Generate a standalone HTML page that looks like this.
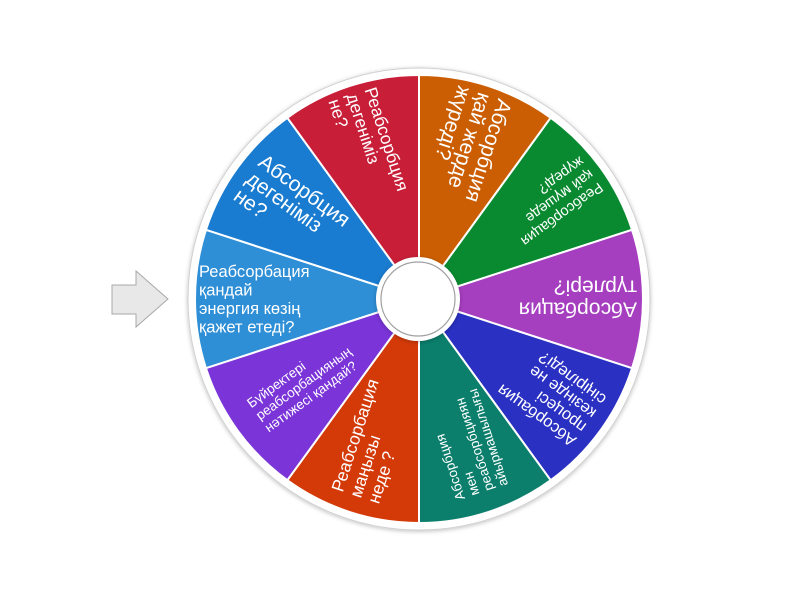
<!DOCTYPE html>
<html><head><meta charset="utf-8"><style>
html,body{margin:0;padding:0;background:#fff;}
svg{display:block;}
text{font-family:"Liberation Sans","DejaVu Sans",sans-serif;fill:#fff;}
</style></head><body>
<svg width="800" height="600" viewBox="0 0 800 600" xmlns="http://www.w3.org/2000/svg">
<defs>
<filter id="sh" x="-10%" y="-10%" width="120%" height="120%"><feDropShadow dx="0" dy="1" stdDeviation="2" flood-color="#000" flood-opacity="0.25"/></filter>
</defs>
<polygon points="112,285 136,285 136,271 168,299 136,327 136,314 112,314" fill="#e8e8e8" stroke="#a8a8a8" stroke-width="1"/>
<circle cx="419" cy="299" r="231" fill="#fff" stroke="#d0d0d0" stroke-width="1" filter="url(#sh)"/>
<g id="segs" stroke="#fff" stroke-width="2"></g>
<g id="txt"></g>
<circle cx="418" cy="299" r="42" fill="#fff" filter="url(#sh)"/>
<circle cx="418" cy="299" r="37" fill="#fff" stroke="#a0a0a0" stroke-width="1.2"/>
<script>
var cx=419,cy=299,R=224;
var segs=[
[180,"#2e8ed6",16.5,18.5,220,["Реабсорбация","қандай","энергия көзің","қажет етеді?"]],
[144,"#1a7cd0",21,21,210,["Абсорбция","дегеніміз","не?"]],
[108,"#c81e38",17.5,19,216,["Реабсорбция","дегеніміз","не?"]],
[72,"#cb5e02",21,21,216,["Абсорбция","қай жерде","жүреді?"]],
[36,"#0a8a30",14.5,16,214,["Реабсорбация","қай мүшеде","жүреді?"]],
[0,"#a63ec0",21,22,218,["Абсорбация","түрлері?"]],
[-36,"#2a30c2",16.5,17,210,["Абсорбация","процесі","кезінде не","сіңіріледі?"]],
[-72,"#0b7e6c",13.5,15,204,["Абсорбция","мен","реабсорбцияян","айырмашылығы"]],
[-108,"#d43a08",17.5,19,208,["Реабсорбация","маңызы","неде ?"]],
[-144,"#7a34d8",13.5,15,200,["Бүйректері","реабсорбацияның","нәтижесі қандай?"]]
];
var ns="http://www.w3.org/2000/svg",g=document.getElementById("segs"),t=document.getElementById("txt");
segs.forEach(function(s){
 var a1=(s[0]-18)*Math.PI/180,a2=(s[0]+18)*Math.PI/180;
 var x1=cx+R*Math.cos(a1),y1=cy-R*Math.sin(a1),x2=cx+R*Math.cos(a2),y2=cy-R*Math.sin(a2);
 var p=document.createElementNS(ns,"path");
 p.setAttribute("d","M"+cx+","+cy+"L"+x1+","+y1+"A"+R+","+R+" 0 0 0 "+x2+","+y2+"Z");
 p.setAttribute("fill",s[1]);g.appendChild(p);
 var gr=document.createElementNS(ns,"g");
 gr.setAttribute("transform","translate("+cx+","+cy+") rotate("+(180-s[0])+")");
 var n=s[5].length;
 s[5].forEach(function(l,i){
  var tx=document.createElementNS(ns,"text");
  tx.setAttribute("x",-s[4]);
  tx.setAttribute("y",((i-(n-1)/2)*s[3]+s[2]*0.36).toFixed(1));
  tx.setAttribute("font-size",s[2]);
  tx.textContent=l;gr.appendChild(tx);
 });
 t.appendChild(gr);
});
</script>
</svg>
</body></html>
